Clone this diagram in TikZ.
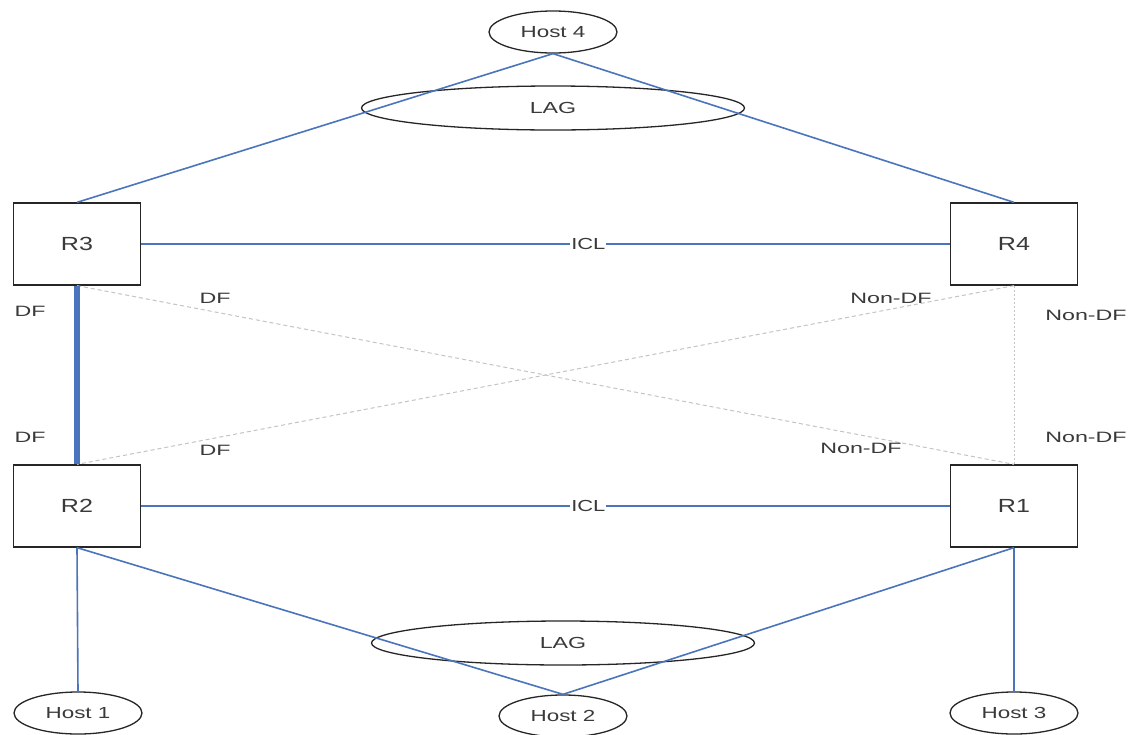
\documentclass[tikz,border=0pt]{standalone}
\usepackage{fontspec}
\setmainfont{Liberation Sans}
\newfontfamily\lblfont[FakeStretch=1.55]{Liberation Sans}
\newfontfamily\hostfont[FakeStretch=1.4]{Liberation Sans}
\newfontfamily\lagfont[FakeStretch=1.45]{Liberation Sans}
\newfontfamily\rtfont[FakeStretch=1.32]{Liberation Sans}
\newfontfamily\iclfont[FakeStretch=1.37]{Liberation Sans}
\usetikzlibrary{shapes.geometric}
\definecolor{linkblue}{HTML}{4A74BC}
\definecolor{txtgray}{HTML}{3A3A3A}
\definecolor{dashgray}{HTML}{C4C4C4}
\tikzset{
  router/.style={draw=black!85, line width=1.3pt, minimum width=127pt, minimum height=82pt, inner sep=0pt, font=\rtfont\fontsize{19}{21}\selectfont, text=txtgray},
  host/.style={draw=black!85, line width=1.3pt, ellipse, minimum width=128pt, minimum height=42pt, inner sep=0pt, font=\hostfont\fontsize{16}{18}\selectfont, text=txtgray},
  lag/.style={draw=black!85, line width=1.3pt, ellipse, minimum width=383pt, minimum height=44pt, inner sep=0pt, font=\lagfont\fontsize{16}{18}\selectfont, text=txtgray},
  link/.style={draw=linkblue, line width=1.6pt},
  dflink/.style={draw=dashgray, line width=1pt, dash pattern=on 4pt off 3pt},
  vlink/.style={draw=dashgray, line width=1pt, dash pattern=on 2pt off 2pt},
  lbl/.style={font=\lblfont\fontsize{15}{17}\selectfont, text=txtgray, inner sep=1pt},
  icl/.style={fill=white, font=\iclfont\fontsize{16}{18}\selectfont, text=txtgray, inner sep=1pt}
}
\begin{document}
\begin{tikzpicture}[x=1pt,y=-1pt]
\useasboundingbox (0,0) rectangle (1138,734);
\fill[white] (0,0) rectangle (1138,734);
% nodes
\node[host] (h4) at (553,32) {Host 4};
\node[lag] (lagt) at (553,108) {LAG};
\node[router] (r3) at (77,244) {R3};
\node[router] (r4) at (1014,244) {R4};
\node[router] (r2) at (77,506) {R2};
\node[router] (r1) at (1014,506) {R1};
\node[lag] (lagb) at (563,643) {LAG};
\node[host] (h1) at (78,713) {Host 1};
\node[host] (h2) at (563,716) {Host 2};
\node[host] (h3) at (1014,713) {Host 3};
% top links
\draw[link] (h4.south) -- (r3.north);
\draw[link] (h4.south) -- (r4.north);
% ICL
\draw[link] (r3.east) -- node[icl, pos=0.553] (icl1) {ICL} (r4.west);
\draw[link] (r2.east) -- node[icl, pos=0.553] (icl2) {ICL} (r1.west);
% DF links
\draw[dflink] (r3.south) -- (r1.north);
\draw[dflink] (r4.south) -- (r2.north);
\draw[vlink] (r4.south) -- (r1.north);
\draw[draw=linkblue, line width=6pt] (r3.south) -- (r2.north);
% bottom links
\draw[link] (r2.south) -- (h1.north);
\draw[link] (r2.south) -- (h2.north);
\draw[link] (r1.south) -- (h2.north);
\draw[link] (r1.south) -- (h3.north);
% labels
\node[lbl] (l1) at (30,311) {DF};
\node[lbl] (l2) at (215,298) {DF};
\node[lbl] (l3) at (891,298) {Non-DF};
\node[lbl] (l4) at (1086,315) {Non-DF};
\node[lbl] (l5) at (30,437) {DF};
\node[lbl] (l6) at (215,450) {DF};
\node[lbl] (l7) at (861,448) {Non-DF};
\node[lbl] (l8) at (1086,437) {Non-DF};
\end{tikzpicture}
\end{document}
